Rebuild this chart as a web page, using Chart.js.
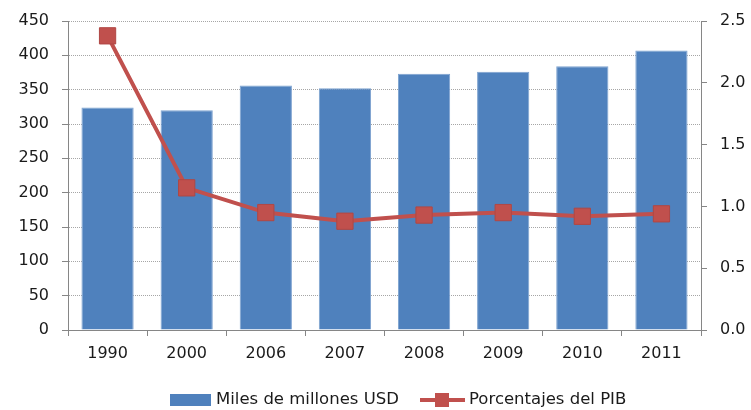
<!DOCTYPE html>
<html>
<head>
<meta charset="utf-8">
<script src="https://cdn.jsdelivr.net/npm/chart.js@4/dist/chart.umd.min.js"></script>
<style>
  html, body { margin: 0; padding: 0; background: #fff; }
  #wrap { width: 751px; height: 410px; position: relative; }
</style>
</head>
<body>
<div id="wrap"><canvas id="chart"></canvas></div>
<script>
const years = ['1990', '2000', '2006', '2007', '2008', '2009', '2010', '2011'];
const milesMillones = [324, 320, 356, 352, 373, 376, 384, 407];
const porcentajePIB = [2.38, 1.15, 0.95, 0.88, 0.93, 0.95, 0.92, 0.94];
const leftTicks = [0, 50, 100, 150, 200, 250, 300, 350, 400, 450];
const rightTicks = [0.0, 0.5, 1.0, 1.5, 2.0, 2.5];

const barColor = '#4F81BD';
const lineColor = '#C0504D';
const axisGray = '#868686';
const textColor = '#1a1a1a';
const fontFamily = "'DejaVu Sans', Verdana, sans-serif";

// legend drawn at the bottom like the original
const bottomLegend = {
  id: 'bottomLegend',
  afterDraw(chart) {
    const ctx = chart.ctx;
    ctx.save();
    ctx.font = '16.5px ' + fontFamily;
    ctx.textBaseline = 'middle';
    const y = 400;
    // bar item
    ctx.fillStyle = barColor;
    ctx.fillRect(170, 394, 41, 12);
    ctx.fillStyle = textColor;
    ctx.fillText(chart.data.datasets[1].label, 216, y);
    // line item
    ctx.strokeStyle = lineColor;
    ctx.lineWidth = 4;
    ctx.beginPath();
    ctx.moveTo(420, y);
    ctx.lineTo(465, y);
    ctx.stroke();
    ctx.fillStyle = lineColor;
    ctx.fillRect(435, y - 7, 14, 14);
    ctx.fillStyle = textColor;
    ctx.fillText(chart.data.datasets[0].label, 469, y);
    ctx.restore();
  }
};

new Chart(document.getElementById('chart'), {
  type: 'bar',
  data: {
    labels: years,
    datasets: [
      {
        type: 'line',
        label: 'Porcentajes del PIB',
        data: porcentajePIB,
        yAxisID: 'y1',
        order: 0,
        borderColor: lineColor,
        borderWidth: 4,
        pointStyle: 'rect',
        pointRadius: 11.5,
        pointBackgroundColor: lineColor,
        pointBorderColor: '#b04744',
        pointBorderWidth: 1,
        tension: 0
      },
      {
        type: 'bar',
        label: 'Miles de millones USD',
        data: milesMillones,
        yAxisID: 'y',
        order: 1,
        backgroundColor: barColor,
        borderColor: '#7ea3d0',
        borderWidth: { left: 1, right: 1, top: 1, bottom: 0 },
        barPercentage: 0.66,
        categoryPercentage: 1
      }
    ]
  },
  options: {
    responsive: true,
    maintainAspectRatio: false,
    animation: false,
    layout: { padding: { top: 18, left: 0, right: 0, bottom: 0 } },
    plugins: {
      legend: { display: false },
      tooltip: { enabled: false }
    },
    scales: {
      x: {
        offset: true,
        grid: {
          offset: true,
          drawOnChartArea: false,
          drawTicks: true,
          tickLength: 6,
          tickColor: axisGray
        },
        border: { color: axisGray, width: 1 },
        ticks: {
          color: textColor,
          padding: 8,
          font: { family: fontFamily, size: 16 }
        },
        afterFit(scale) { scale.height = 80; }
      },
      y: {
        position: 'left',
        min: 0,
        max: 450,
        afterBuildTicks(scale) { scale.ticks = leftTicks.map(v => ({ value: v })); },
        grid: {
          color: '#a6a6a6',
          lineWidth: 1,
          tickLength: 6,
          tickColor: axisGray,
          tickBorderDash: []
        },
        border: { color: axisGray, width: 1, dash: [1, 1] },
        ticks: {
          color: textColor,
          padding: 13,
          font: { family: fontFamily, size: 16, lineHeight: 1 }
        },
        afterFit(scale) { scale.width = 68; }
      },
      y1: {
        position: 'right',
        min: 0,
        max: 2.5,
        afterBuildTicks(scale) { scale.ticks = rightTicks.map(v => ({ value: v })); },
        grid: {
          drawOnChartArea: false,
          tickLength: 6,
          tickColor: axisGray
        },
        border: { color: axisGray, width: 1 },
        ticks: {
          color: textColor,
          padding: 13,
          font: { family: fontFamily, size: 16, lineHeight: 1 },
          callback: v => v.toFixed(1)
        },
        afterFit(scale) { scale.width = 50; }
      }
    }
  },
  plugins: [bottomLegend]
});
</script>
</body>
</html>
